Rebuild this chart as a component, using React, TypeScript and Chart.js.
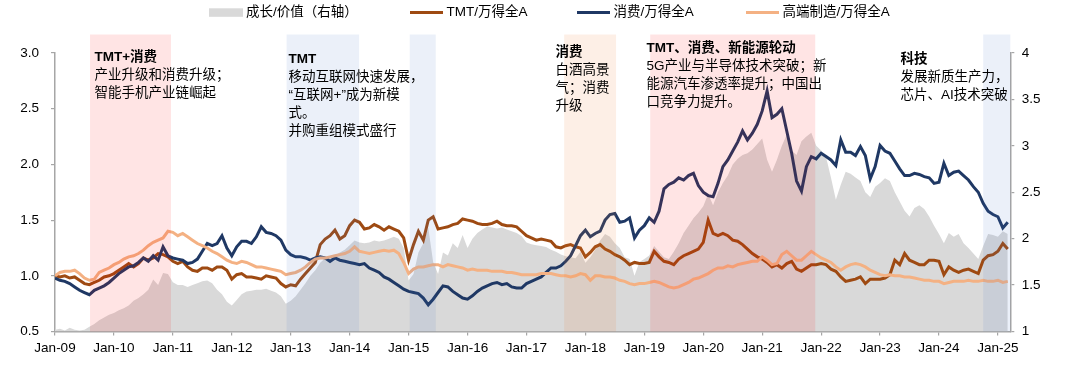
import React, { useEffect, useRef } from "react";
import { Chart, registerables } from "chart.js";

Chart.register(...registerables);

// ---------------- data (monthly, Jan-2009 .. Mar-2025) ----------------
const xTickLabels = [
  "Jan-09", "Jan-10", "Jan-11", "Jan-12", "Jan-13", "Jan-14", "Jan-15", "Jan-16", "Jan-17",
  "Jan-18", "Jan-19", "Jan-20", "Jan-21", "Jan-22", "Jan-23", "Jan-24", "Jan-25",
];

const seriesNames = ["成长/价值（右轴）", "TMT/万得全A", "消费/万得全A", "高端制造/万得全A"];

// 成长/价值（右轴）
const growthValue = [
  1.02, 1.03, 1.01, 1.04, 1.02, 1.01, 1.02, 1.05, 1.08, 1.12, 1.15, 1.18,
  1.20, 1.23, 1.25, 1.28, 1.33, 1.36, 1.40, 1.45, 1.56, 1.50, 1.63, 1.62,
  1.53, 1.50, 1.50, 1.48, 1.50, 1.52, 1.54, 1.55, 1.52, 1.45, 1.40, 1.32,
  1.28, 1.34, 1.40, 1.43, 1.44, 1.45, 1.45, 1.46, 1.44, 1.42, 1.38, 1.30,
  1.33, 1.38, 1.45, 1.52, 1.60, 1.66, 1.74, 1.79, 1.80, 1.82, 1.85, 1.88,
  1.93, 1.98, 1.96, 1.95, 1.96, 1.98, 1.97, 1.98, 2.00, 2.02, 2.00, 1.90,
  1.55, 1.62, 1.85, 1.95, 2.12, 1.75, 1.62, 1.85, 1.82, 1.95, 1.90, 2.04,
  1.90, 2.00, 2.06, 2.10, 2.13, 2.12, 2.11, 2.12, 2.10, 2.08, 2.06, 2.03,
  1.96, 1.94, 1.93, 1.92, 1.91, 1.88, 1.86, 1.83, 1.81, 1.80, 1.79, 1.86,
  1.74, 1.80, 1.88, 1.98, 2.05, 2.02, 1.95, 1.90, 1.80, 1.78, 1.60, 1.75,
  1.78, 1.82, 1.92, 1.86, 1.80, 1.78, 1.86, 1.95, 2.06, 2.14, 2.22, 2.28,
  2.35, 2.48, 2.36, 2.50, 2.60, 2.68, 2.80, 2.86, 2.90, 2.92, 2.96, 3.02,
  3.08, 2.85, 2.72, 2.85, 3.00, 3.12, 2.95, 2.90, 3.05, 3.10, 3.14, 3.00,
  2.95, 2.88, 2.66, 2.42, 2.58, 2.72, 2.70, 2.66, 2.62, 2.50, 2.45, 2.56,
  2.60, 2.65, 2.62, 2.50, 2.40, 2.30, 2.24, 2.33, 2.36, 2.32, 2.24, 2.14,
  2.05, 1.95, 2.06, 2.02, 2.05, 1.95, 1.90, 1.84, 1.78, 1.92, 2.05, 2.04,
  2.02, 2.08, 2.05,
];

// TMT/万得全A
const tmt = [
  1.00, 0.99, 1.00, 0.98, 0.99, 0.96, 0.93, 0.92, 0.94, 0.96, 0.99, 1.00,
  1.02, 1.05, 1.08, 1.11, 1.08, 1.11, 1.16, 1.14, 1.16, 1.20, 1.19, 1.17,
  1.13, 1.11, 1.13, 1.08, 1.05, 1.04, 1.07, 1.07, 1.05, 1.08, 1.08, 1.05,
  0.97, 1.01, 1.02, 0.99, 0.99, 0.98, 0.97, 1.00, 0.99, 0.98, 0.93, 0.90,
  0.92, 0.91, 0.97, 1.02, 1.07, 1.12, 1.28, 1.33, 1.36, 1.41, 1.33, 1.36,
  1.45, 1.50, 1.48, 1.42, 1.43, 1.46, 1.44, 1.41, 1.44, 1.42, 1.40, 1.34,
  1.14, 1.28, 1.40, 1.32, 1.50, 1.53, 1.42, 1.43, 1.44, 1.46, 1.47, 1.51,
  1.50, 1.49, 1.47, 1.46, 1.46, 1.47, 1.49, 1.46, 1.45, 1.45, 1.44, 1.40,
  1.36, 1.34, 1.32, 1.33, 1.32, 1.31, 1.26, 1.25, 1.27, 1.28, 1.26, 1.25,
  1.17, 1.21, 1.26, 1.28, 1.24, 1.22, 1.19, 1.17, 1.14, 1.10, 1.12, 1.11,
  1.11, 1.12, 1.22, 1.17, 1.13, 1.12, 1.10, 1.15, 1.18, 1.20, 1.22, 1.24,
  1.30, 1.50, 1.38, 1.36, 1.38, 1.36, 1.32, 1.31, 1.28, 1.24, 1.20, 1.17,
  1.15, 1.12, 1.08, 1.10, 1.07, 1.11, 1.13, 1.06, 1.04, 1.07, 1.10, 1.10,
  1.11, 1.10, 1.06, 1.04, 0.99, 0.95, 0.96, 0.97, 0.99, 0.93, 0.97, 0.97,
  0.97, 0.98, 1.01, 1.14, 1.10, 1.20, 1.14, 1.12, 1.10, 1.10, 1.14, 1.14,
  1.13, 1.01, 1.08, 1.05, 1.03, 1.05, 1.06, 1.04, 1.02, 1.14, 1.18, 1.19,
  1.22, 1.29, 1.24,
];

// 消费/万得全A
const consumer = [
  0.98, 0.96, 0.95, 0.93, 0.90, 0.87, 0.85, 0.83, 0.87, 0.89, 0.91, 0.94,
  0.98, 1.02, 1.05, 1.08, 1.09, 1.12, 1.16, 1.13, 1.18, 1.14, 1.26, 1.18,
  1.16, 1.15, 1.14, 1.11, 1.12, 1.15, 1.22, 1.29, 1.27, 1.29, 1.36, 1.25,
  1.18, 1.26, 1.31, 1.31, 1.29, 1.35, 1.44, 1.39, 1.38, 1.36, 1.32, 1.23,
  1.19, 1.17, 1.17, 1.16, 1.14, 1.16, 1.17, 1.16, 1.13, 1.16, 1.14, 1.13,
  1.12, 1.11, 1.10, 1.11, 1.07, 1.05, 1.03, 0.99, 0.97, 0.94, 0.91, 0.88,
  0.86, 0.85, 0.84, 0.80, 0.74, 0.79, 0.85, 0.91, 0.90, 0.86, 0.83, 0.80,
  0.79, 0.82, 0.86, 0.89, 0.91, 0.93, 0.94, 0.92, 0.93, 0.90, 0.89, 0.89,
  0.93, 0.95, 0.97, 0.99, 1.03, 1.07, 1.07, 1.09, 1.13, 1.18, 1.27, 1.36,
  1.41, 1.35, 1.38, 1.40, 1.50, 1.55, 1.56, 1.48, 1.49, 1.52, 1.34, 1.41,
  1.45, 1.52, 1.48, 1.58, 1.78, 1.82, 1.84, 1.88, 1.86, 1.90, 1.92, 1.81,
  1.75, 1.72, 1.71, 1.83, 1.98, 2.04, 2.12, 2.20, 2.30, 2.22, 2.28, 2.36,
  2.48, 2.66, 2.42, 2.45, 2.50, 2.30, 2.10, 1.85, 1.76, 1.98, 2.07, 2.05,
  2.10, 2.07, 2.04, 1.99, 2.22, 2.11, 2.11, 2.08, 2.16, 2.08, 1.87, 1.98,
  2.17, 2.12, 2.10, 2.03, 1.96, 1.90, 1.90, 1.92, 1.91, 1.89, 1.88, 1.83,
  1.84, 2.01, 1.90, 1.93, 1.94, 1.90, 1.86, 1.80, 1.75, 1.65, 1.58, 1.55,
  1.53, 1.43, 1.48,
];

// 高端制造/万得全A
const manufacturing = [
  1.00, 1.03, 1.04, 1.04, 1.05, 1.02, 0.98, 0.96, 0.97, 1.03, 1.05, 1.07,
  1.10, 1.12, 1.15, 1.17, 1.18, 1.20, 1.23, 1.27, 1.30, 1.32, 1.34, 1.40,
  1.39, 1.36, 1.38, 1.35, 1.32, 1.29, 1.27, 1.25, 1.22, 1.20, 1.17, 1.14,
  1.12, 1.11, 1.13, 1.12, 1.10, 1.08, 1.08, 1.07, 1.06, 1.05, 1.04, 1.01,
  1.02, 1.03, 1.05, 1.08, 1.12, 1.15, 1.16, 1.16, 1.17, 1.18, 1.19, 1.20,
  1.22, 1.26, 1.22, 1.21, 1.20, 1.21, 1.22, 1.23, 1.22, 1.23, 1.20, 1.12,
  1.02, 1.06, 1.08, 1.08, 1.09, 1.10, 1.10, 1.08, 1.10, 1.09, 1.08, 1.07,
  1.05, 1.06, 1.05, 1.05, 1.05, 1.04, 1.04, 1.04, 1.03, 1.03, 1.02, 1.01,
  1.01, 1.01, 1.01, 1.02, 1.02, 1.02, 1.01, 1.00, 1.00, 0.99, 1.00, 1.02,
  1.01, 0.96, 1.00, 1.00, 0.99, 0.99, 0.98, 0.96, 0.95, 0.93, 0.92, 0.93,
  0.93, 0.94, 0.95, 0.94, 0.92, 0.90, 0.89, 0.90, 0.92, 0.94, 0.97, 0.98,
  1.00, 1.02, 1.05, 1.07, 1.07, 1.09, 1.08, 1.10, 1.11, 1.12, 1.13, 1.13,
  1.17, 1.14, 1.10, 1.11, 1.19, 1.22, 1.18, 1.14, 1.14, 1.18, 1.22, 1.19,
  1.16, 1.14, 1.12, 1.08, 1.05, 1.08, 1.10, 1.11, 1.10, 1.08, 1.05, 1.03,
  1.01, 1.00, 1.01, 1.00, 1.00, 0.99, 0.99, 0.98, 0.97, 0.96, 0.96, 0.95,
  0.95, 0.93, 0.94, 0.95, 0.95, 0.95, 0.96, 0.95, 0.95, 0.96, 0.95, 0.95,
  0.96, 0.94, 0.95,
];

// highlighted periods (years since Jan-2009)
const regionStart = [0.594, 3.93, 6.02, 8.64, 10.1, 15.75];
const regionEnd = [1.968, 5.16, 6.46, 9.52, 12.9, 16.21];

const noteTitles = ["TMT+消费", "TMT", "消费", "TMT、消费、新能源轮动", "科技"];
const noteLines = [
  ["产业升级和消费升级；", "智能手机产业链崛起"],
  ["移动互联网快速发展，", "“互联网+”成为新模", "式。", "并购重组模式盛行"],
  ["白酒高景", "气；消费", "升级"],
  ["5G产业与半导体技术突破；新", "能源汽车渗透率提升；中国出", "口竞争力提升。"],
  ["发展新质生产力，", "芯片、AI技术突破"],
];

// ---------------- styles / layout ----------------
const FONT = '"Liberation Sans", Arial, "Noto Sans CJK SC", sans-serif';
const FS = 13.5;
const W = 1080;
const H = 365;
const AXIS_COLOR = "#A6A6A6";
const C_GRAY = "#D9D9D9";
const C_TMT = "#9E4A12";
const C_CONS = "#1F3864";
const C_MANU = "#F4B183";
const REGION_COLORS = [
  "rgba(255,0,0,0.105)",
  "rgba(68,114,196,0.105)",
  "rgba(68,114,196,0.105)",
  "rgba(237,125,49,0.12)",
  "rgba(255,0,0,0.105)",
  "rgba(68,114,196,0.105)",
];
const REGION_TOP = 34.5;
const NOTE_X = [94.5, 288.5, 555.5, 646.5, 900.5];
const NOTE_Y = [57.5, 59, 52.5, 48, 59];
const NOTE_LH = 18;

const toPoints = (arr: number[]) => arr.map((v, i) => ({ x: i / 12, y: v }));

const decorPlugin = {
  id: "decor",
  afterDatasetsDraw(chart: any) {
    const { ctx, chartArea, scales } = chart;
    const xs = scales.x;
    ctx.save();
    regionStart.forEach((s, i) => {
      const x0 = xs.getPixelForValue(s);
      const x1 = xs.getPixelForValue(regionEnd[i]);
      ctx.fillStyle = REGION_COLORS[i];
      ctx.fillRect(x0, REGION_TOP, x1 - x0, chartArea.bottom - REGION_TOP);
    });
    ctx.restore();
  },
  afterDraw(chart: any) {
    const { ctx } = chart;
    ctx.save();
    ctx.textBaseline = "middle";
    ctx.textAlign = "left";
    ctx.fillStyle = "#000";
    noteTitles.forEach((t, i) => {
      ctx.font = `bold ${FS}px ${FONT}`;
      ctx.fillText(t, NOTE_X[i], NOTE_Y[i]);
      ctx.font = `${FS}px ${FONT}`;
      noteLines[i].forEach((ln, j) => {
        ctx.fillText(ln, NOTE_X[i], NOTE_Y[i] + NOTE_LH * (j + 1));
      });
    });

    // legend
    const ly = 12.5;
    ctx.font = `${FS}px ${FONT}`;
    ctx.fillStyle = C_GRAY;
    ctx.fillRect(209, 8.3, 34, 8.5);
    ctx.fillStyle = "#000";
    ctx.fillText(seriesNames[0], 246, ly);
    const items: [number, string, string][] = [
      [410, C_TMT, seriesNames[1]],
      [577, C_CONS, seriesNames[2]],
      [746, C_MANU, seriesNames[3]],
    ];
    items.forEach(([x, c, name]) => {
      ctx.strokeStyle = c;
      ctx.lineWidth = 3;
      ctx.beginPath();
      ctx.moveTo(x, ly);
      ctx.lineTo(x + 33, ly);
      ctx.stroke();
      ctx.fillStyle = "#000";
      ctx.fillText(name, x + 36.5, ly);
    });
    ctx.restore();
  },
};

export default function App() {
  const ref = useRef<HTMLCanvasElement>(null);
  useEffect(() => {
    if (!ref.current) return;
    const lineDs = (label: string, data: number[], color: string, order: number) => ({
      type: "line" as const,
      label,
      data: toPoints(data),
      borderColor: color,
      backgroundColor: color,
      borderWidth: 3,
      pointRadius: 0,
      tension: 0,
      fill: false,
      yAxisID: "y",
      order,
    });
    const chart = new Chart(ref.current, {
      type: "line",
      data: {
        datasets: [
          {
            label: seriesNames[0],
            data: toPoints(growthValue),
            borderWidth: 0,
            borderColor: C_GRAY,
            backgroundColor: C_GRAY,
            pointRadius: 0,
            tension: 0,
            fill: "start",
            yAxisID: "y1",
            order: 4,
          },
          lineDs(seriesNames[1], tmt, C_TMT, 3),
          lineDs(seriesNames[2], consumer, C_CONS, 2),
          lineDs(seriesNames[3], manufacturing, C_MANU, 1),
        ] as any,
      },
      options: {
        animation: false,
        responsive: false,
        devicePixelRatio: 1,
        layout: { padding: { top: 53, left: 0, right: 0, bottom: 0 } },
        plugins: { legend: { display: false }, tooltip: { enabled: false } },
        scales: {
          x: {
            type: "linear",
            min: 0,
            max: 16.21,
            afterBuildTicks: (scale: any) => {
              scale.ticks = xTickLabels.map((_, i) => ({ value: i }));
            },
            afterFit: (scale: any) => {
              scale.height = H - 331.5;
            },
            ticks: {
              autoSkip: false,
              maxRotation: 0,
              padding: 5,
              color: "#000",
              font: { family: FONT, size: FS },
              callback: (v: any) => xTickLabels[Math.round(Number(v))],
            },
            grid: { drawOnChartArea: false, drawTicks: true, tickLength: 4, color: AXIS_COLOR, lineWidth: 1.2 },
            border: { display: true, color: AXIS_COLOR, width: 1.5 },
          },
          y: {
            position: "left",
            min: 0.5,
            max: 3.0,
            afterFit: (scale: any) => {
              scale.width = 55;
            },
            ticks: {
              stepSize: 0.5,
              padding: 12,
              color: "#000",
              font: { family: FONT, size: FS },
              callback: (v: any) => Number(v).toFixed(1),
            },
            grid: { drawOnChartArea: false, drawTicks: true, tickLength: 4, color: AXIS_COLOR, lineWidth: 1.2 },
            border: { display: true, color: AXIS_COLOR, width: 1.5 },
          },
          y1: {
            position: "right",
            min: 1,
            max: 4,
            afterFit: (scale: any) => {
              scale.width = W - 1010.3;
            },
            ticks: {
              stepSize: 0.5,
              padding: 7.5,
              color: "#000",
              font: { family: FONT, size: FS },
              callback: (v: any) => String(Number(v)),
            },
            grid: { drawOnChartArea: false, drawTicks: true, tickLength: 4, color: AXIS_COLOR, lineWidth: 1.2 },
            border: { display: true, color: AXIS_COLOR, width: 1.5 },
          },
        },
      } as any,
      plugins: [decorPlugin],
    });
    return () => chart.destroy();
  }, []);
  return (
    <div style={{ position: "fixed", left: 0, top: 0, width: W, height: H, background: "#fff" }}>
      <canvas ref={ref} width={W} height={H} style={{ display: "block", width: W, height: H }} />
    </div>
  );
}
